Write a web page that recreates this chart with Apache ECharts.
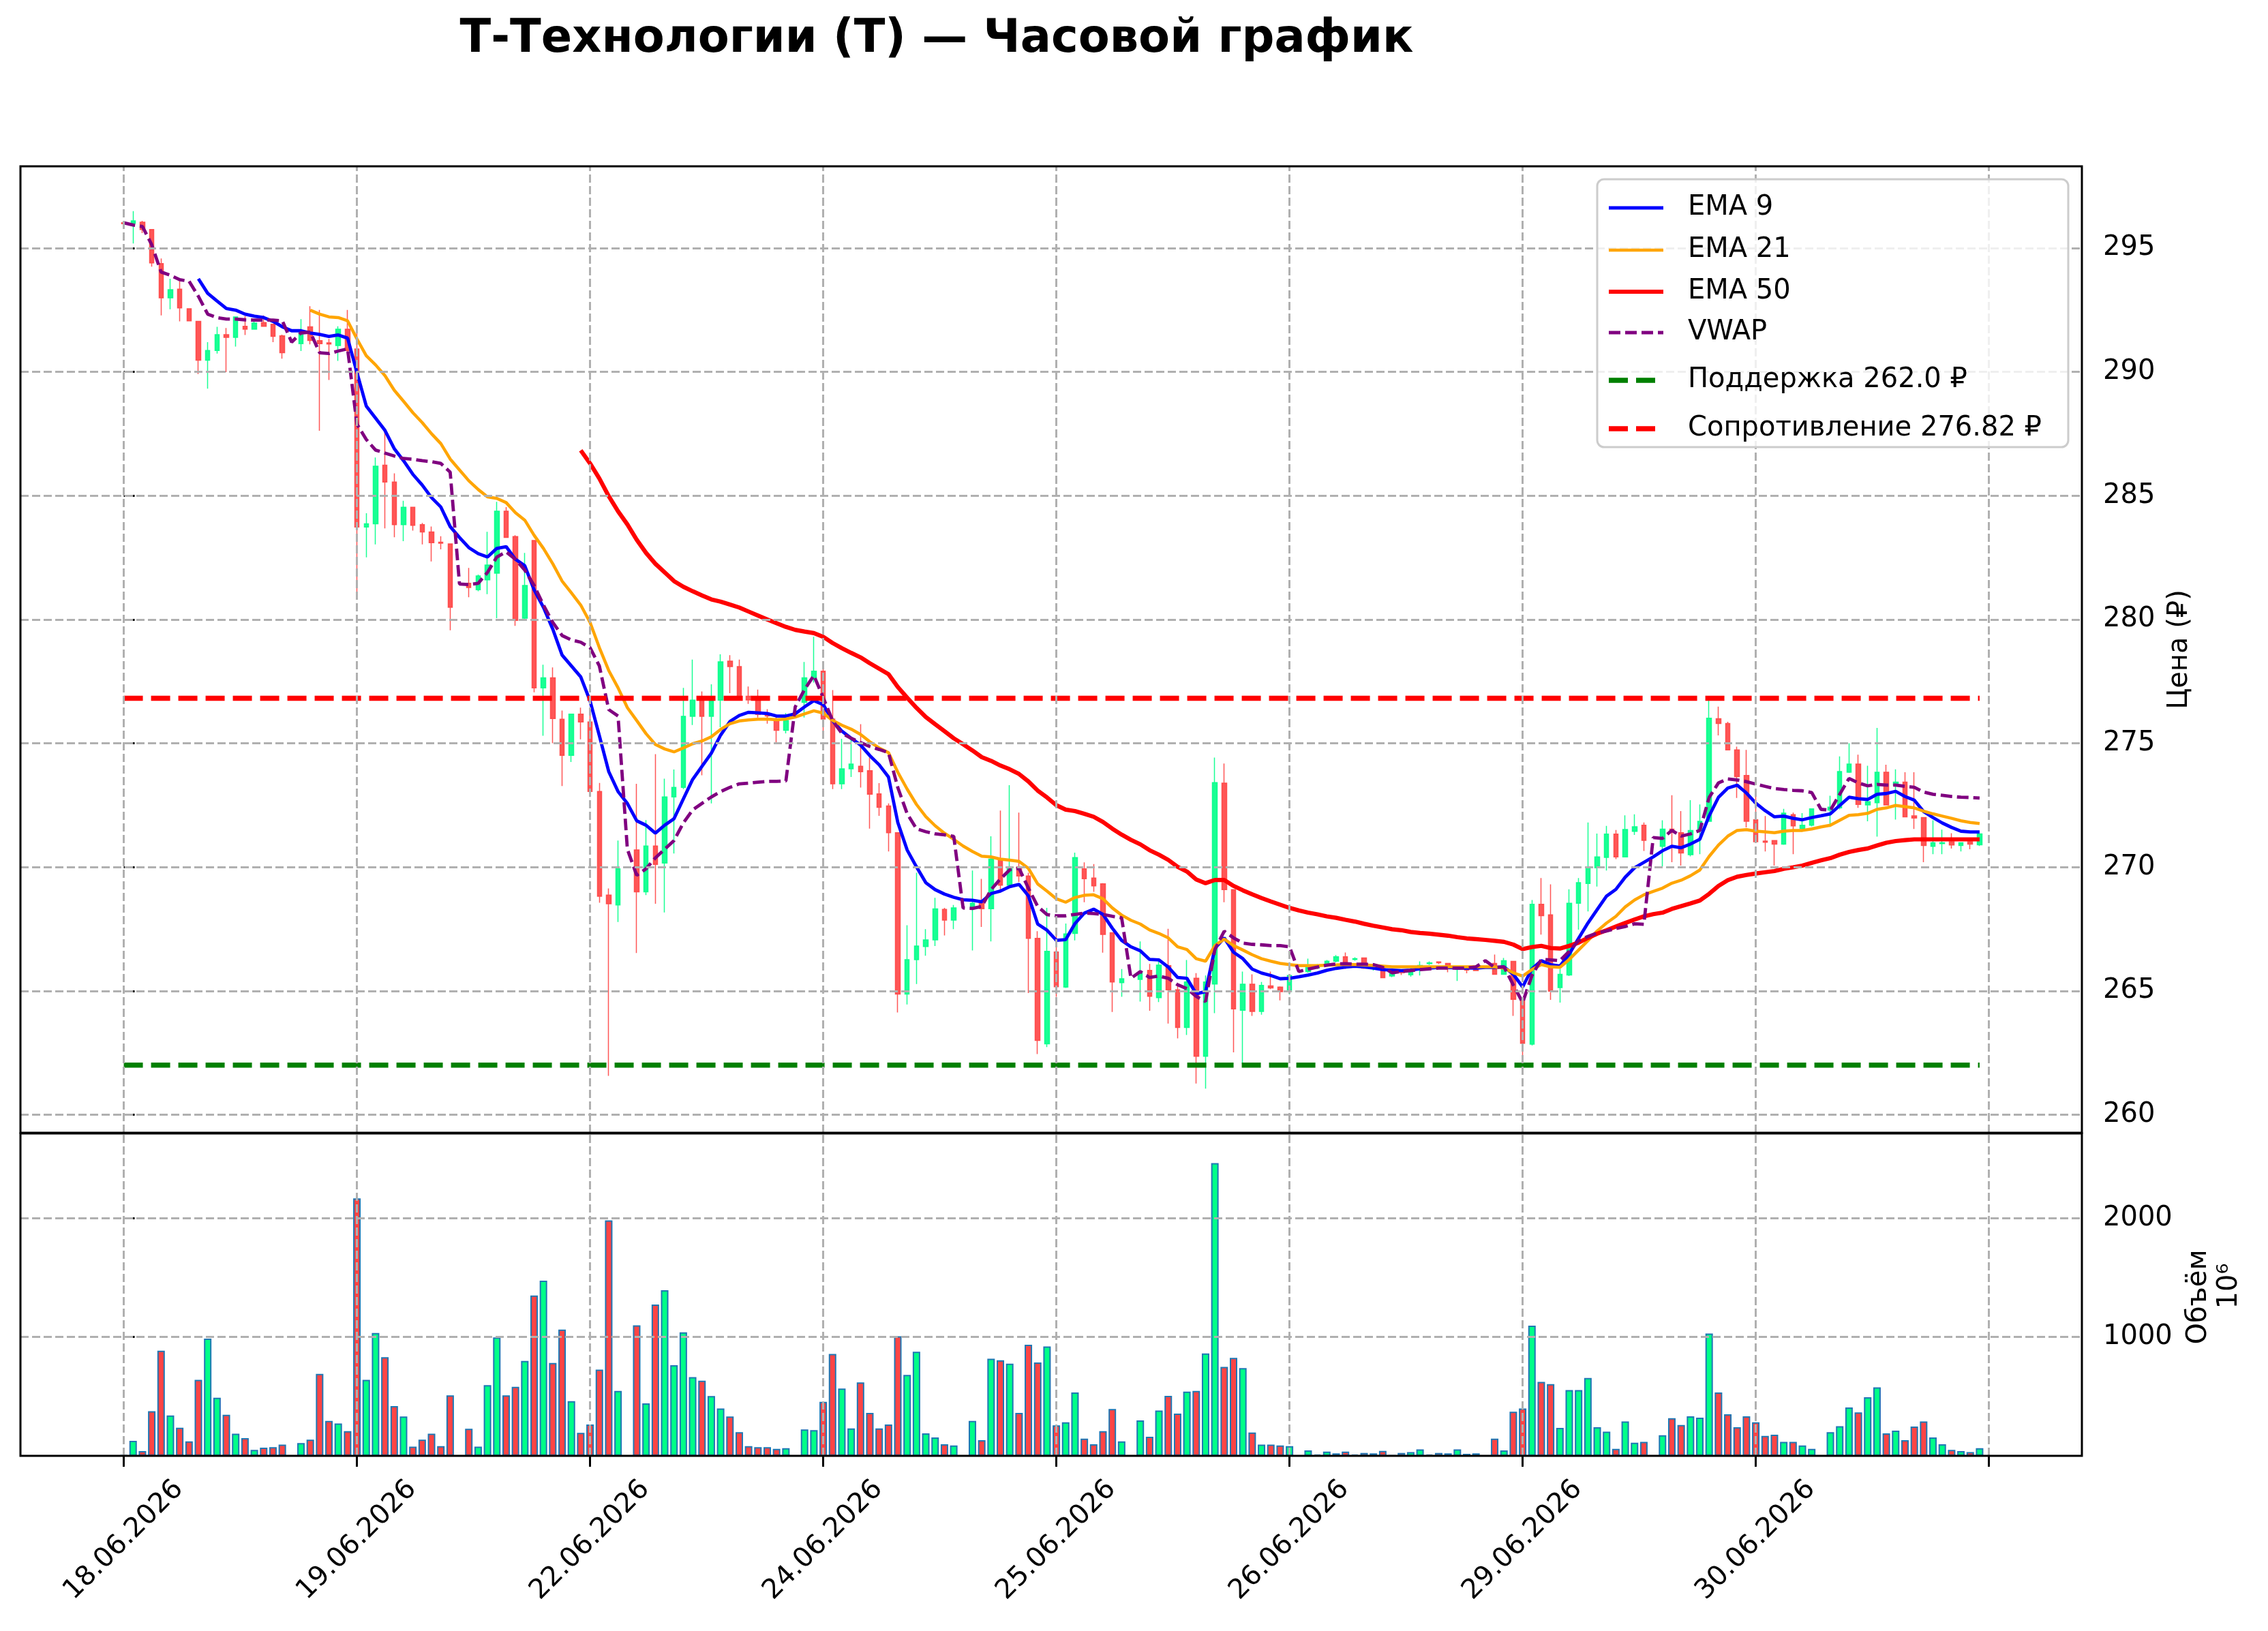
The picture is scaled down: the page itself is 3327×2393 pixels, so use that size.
<!DOCTYPE html>
<html>
<head>
<meta charset="utf-8">
<script src="https://cdn.jsdelivr.net/npm/echarts@6/dist/echarts.min.js"></script>
</head>
<body style="margin:0; background:#ffffff">
<div id="container" style="width:3327px; height:2393px"></div>
<script type="text/javascript">

// tick labels on the shared x axis (every 25 hourly bars)
var dateLabels = ['18.06.2026', '19.06.2026', '22.06.2026', '24.06.2026',
                  '25.06.2026', '26.06.2026', '29.06.2026', '30.06.2026'];
var priceTicks = [260, 265, 270, 275, 280, 285, 290, 295];
var volumeTicks = [1000, 2000];
var barTicks = [0, 25, 50, 75, 100, 125, 150, 175, 200];

var supportLevel = 262.0;
var resistanceLevel = 276.82;

// hourly candles, null = empty bar (no trades)
var openP = [
 296.02,296.00,296.04,295.75,294.37,292.99,293.34,292.55,292.04,290.47,
 290.86,291.50,291.39,291.84,291.72,291.99,291.92,291.45,null,291.14,
 291.82,291.26,291.17,291.06,291.72,290.92,283.73,283.86,286.23,285.55,
 283.83,284.53,283.83,283.53,283.12,283.05,null,281.46,281.20,281.60,
 281.87,284.37,283.35,280.05,283.19,277.24,277.64,275.97,274.51,276.18,
 275.86,273.05,268.87,268.47,null,270.69,269.00,270.85,270.16,272.83,
 273.22,276.09,276.74,276.09,276.74,278.32,278.10,276.90,276.78,276.20,
 275.98,275.52,null,276.65,277.64,277.91,275.98,273.36,273.97,274.07,
 273.89,272.96,272.47,271.39,264.87,266.26,266.79,267.06,268.29,267.86,
 null,268.35,268.54,268.32,270.32,269.27,270.01,269.64,267.12,262.86,
 266.57,265.15,267.32,269.93,269.56,269.32,267.35,265.33,null,265.46,
 265.83,264.73,266.02,265.04,263.52,265.51,262.36,265.28,273.39,269.09,
 264.22,265.27,264.17,265.20,265.15,264.97,null,265.78,265.94,266.05,
 266.20,266.38,266.27,266.33,265.90,265.92,265.60,265.84,265.65,265.89,
 266.10,266.17,266.11,265.87,265.90,265.93,null,266.11,265.67,266.19,
 264.64,262.85,268.50,268.07,265.13,265.64,268.54,269.34,269.97,270.39,
 271.33,270.41,271.44,271.69,null,270.84,271.53,271.39,270.50,271.48,
 271.85,275.99,275.80,274.73,273.70,271.91,271.05,271.07,270.93,272.12,
 271.55,271.69,null,272.30,272.39,273.83,274.16,272.51,272.60,273.83,
 273.31,273.43,272.07,272.00,270.84,270.95,271.02,270.87,271.02,270.90
];
var highP = [
 296.05,296.49,296.10,295.75,294.58,293.76,293.66,292.55,292.04,291.20,
 291.82,291.77,292.22,292.25,292.05,292.28,291.92,291.50,null,292.13,
 292.65,292.50,291.33,291.84,292.50,291.76,284.29,286.54,287.58,285.90,
 284.79,284.53,283.90,283.75,283.36,283.05,null,282.08,281.81,283.54,
 284.75,284.54,283.40,282.69,283.19,278.17,278.06,276.32,276.18,276.44,
 276.18,273.40,269.14,271.07,null,273.36,271.90,274.56,273.57,273.94,
 277.24,278.38,277.09,277.38,278.59,278.56,278.38,277.29,277.17,276.38,
 276.16,276.22,null,278.28,279.30,278.13,277.15,275.18,275.18,275.77,
 274.42,273.39,272.57,271.39,267.65,269.77,267.49,268.76,268.35,268.47,
 null,269.86,269.52,271.24,272.28,273.31,272.20,269.77,267.41,268.35,
 267.30,267.72,270.58,270.19,270.12,269.35,267.35,265.88,null,267.00,
 266.09,266.30,267.51,265.20,266.25,265.72,265.62,274.42,274.18,269.09,
 265.78,265.67,265.36,265.78,265.18,265.67,null,266.30,266.08,266.25,
 266.45,266.55,266.36,266.33,266.05,265.92,265.75,265.84,265.95,266.19,
 266.19,266.19,266.11,265.95,265.97,265.93,null,266.47,266.33,266.19,
 264.64,268.67,269.56,269.30,265.89,269.10,269.56,271.80,271.35,271.66,
 271.50,272.09,272.13,271.80,null,271.89,272.90,272.26,272.70,272.53,
 276.72,276.48,275.87,274.86,274.73,272.90,272.06,271.07,272.35,272.20,
 272.18,272.37,null,272.88,274.47,275.00,274.54,274.09,275.62,274.13,
 273.95,273.83,273.83,272.00,271.89,271.51,271.37,271.00,271.05,271.36
];
var lowP = [
 295.95,295.18,295.60,294.25,292.28,292.53,292.04,292.06,289.91,289.32,
 290.74,289.99,291.02,291.49,291.72,291.84,291.20,290.53,null,290.84,
 291.11,287.62,289.67,290.44,290.70,281.03,282.51,283.03,283.68,283.32,
 283.16,283.59,283.03,282.34,282.83,279.56,null,280.90,281.14,281.02,
 280.05,283.31,279.74,280.02,277.06,275.30,275.00,273.27,274.24,275.16,
 272.83,268.56,261.57,267.78,null,266.53,268.87,268.52,268.17,270.55,
 273.15,275.74,273.71,272.57,275.65,277.02,276.72,276.59,276.04,275.79,
 275.03,275.40,null,276.04,277.45,275.28,273.15,273.15,273.64,273.21,
 271.55,272.07,270.63,264.13,264.45,265.28,266.42,266.81,267.24,267.49,
 null,266.63,267.58,267.00,269.09,269.21,269.40,264.91,262.45,262.73,
 264.76,265.12,267.04,268.58,269.00,266.54,264.15,264.76,null,264.57,
 264.20,264.55,263.68,263.08,263.22,261.26,261.05,264.10,268.58,262.52,
 262.05,263.99,264.04,265.07,264.62,264.86,null,265.73,265.88,266.00,
 266.15,265.89,266.22,265.89,265.82,265.51,265.55,265.64,265.57,265.62,
 266.05,266.08,265.75,265.40,265.71,265.80,null,265.67,265.67,263.99,
 262.08,262.79,267.27,264.64,264.53,265.60,267.47,268.21,269.21,269.86,
 270.32,270.39,271.30,270.65,null,270.02,270.20,270.06,270.43,270.52,
 271.85,275.32,274.73,272.79,271.60,271.00,270.63,270.06,270.90,270.52,
 271.50,271.64,null,271.62,272.33,273.80,272.39,271.85,271.23,272.51,
 271.92,272.03,271.54,270.20,270.52,270.52,270.75,270.63,270.72,270.85
];
var closeP = [
 295.98,296.10,295.75,294.40,292.99,293.32,292.58,292.06,290.47,290.86,
 291.50,291.39,292.22,291.72,291.97,291.84,291.43,290.77,null,291.57,
 291.27,291.14,291.12,291.72,290.86,283.73,283.86,286.19,285.55,283.83,
 284.53,283.80,283.53,283.10,283.08,280.49,null,281.29,281.76,282.20,
 284.37,283.31,279.96,281.37,277.24,277.64,276.00,274.51,276.18,275.86,
 273.05,268.82,268.52,269.93,null,269.00,270.85,270.11,272.83,273.22,
 276.09,276.74,276.09,276.71,278.29,278.10,276.79,276.75,276.16,276.10,
 275.52,275.92,null,277.64,277.91,275.98,273.36,273.97,274.16,273.85,
 272.94,272.41,271.39,264.87,266.26,266.81,267.06,268.31,267.86,268.35,
 null,268.54,268.32,270.32,269.27,270.01,269.64,267.12,263.00,266.60,
 265.17,267.30,270.38,269.53,269.24,267.28,265.36,265.49,null,265.72,
 264.78,266.04,265.04,263.52,265.36,262.36,265.36,273.41,269.09,264.27,
 265.27,264.17,265.22,265.12,264.97,265.62,null,265.94,266.05,266.20,
 266.38,265.98,266.30,265.92,265.95,265.53,265.70,265.73,265.75,266.03,
 266.13,266.14,265.89,265.90,265.84,265.82,null,265.67,266.22,264.66,
 262.88,268.50,268.04,264.99,265.67,268.54,269.37,269.97,270.41,271.33,
 270.41,271.52,271.63,271.08,null,271.53,271.44,270.57,271.48,271.85,
 276.01,275.80,274.73,273.65,271.85,271.02,271.00,270.93,272.18,271.66,
 271.69,272.35,null,272.42,273.86,274.16,272.53,272.64,273.83,272.51,
 273.43,272.03,271.98,270.87,270.98,270.98,270.89,270.98,270.93,271.34
];
// volume, millions
var volume = [
 6,126,40,375,885,340,237,122,639,987,
 489,346,187,149,50,69,73,94,0,107,
 136,690,294,273,208,2166,639,1034,830,419,
 331,78,136,187,82,509,0,228,78,595,
 996,509,581,799,1350,1474,782,1063,461,193,
 264,725,1981,547,0,1098,442,1273,1394,763,
 1040,662,633,503,398,331,199,82,73,73,
 59,65,0,222,216,455,857,566,231,618,
 361,231,264,1006,681,876,189,155,98,88,
 0,294,132,818,805,776,361,935,786,920,
 256,283,533,145,98,208,394,122,0,298,
 161,381,505,356,541,547,862,2463,748,824,
 738,197,94,94,88,82,0,46,11,36,
 21,36,11,25,21,42,2,25,31,54,
 11,25,21,54,17,21,0,145,46,371,
 398,1096,623,604,235,553,553,656,241,203,
 59,289,111,117,0,174,317,260,333,321,
 1029,533,350,241,333,283,168,178,117,117,
 88,59,0,199,250,407,365,493,576,189,
 212,132,247,289,155,98,50,40,31,65
];

var ema9 = [
 null,null,null,null,null,null,null,null,293.76,293.17,
 292.86,292.56,292.49,292.33,292.25,292.19,292.04,291.82,291.66,291.66,
 291.57,291.51,291.43,291.49,291.36,289.98,288.62,288.13,287.64,286.90,
 286.41,285.86,285.43,284.92,284.54,283.75,283.31,282.90,282.66,282.52,
 282.87,282.94,282.43,282.17,281.20,280.49,279.61,278.56,278.12,277.68,
 276.71,275.30,273.86,273.05,272.57,271.87,271.69,271.37,271.69,271.95,
 272.75,273.54,274.07,274.60,275.33,275.88,276.12,276.25,276.23,276.20,
 276.10,276.10,276.19,276.47,276.72,276.56,275.92,275.49,275.20,274.93,
 274.50,274.13,273.64,271.80,270.69,270.01,269.37,269.09,268.91,268.78,
 268.68,268.66,268.60,268.93,269.03,269.21,269.30,268.84,267.70,267.45,
 267.04,267.07,267.72,268.14,268.30,268.09,267.53,267.04,266.78,266.62,
 266.27,266.25,265.96,265.54,265.51,264.88,264.97,266.72,267.14,266.56,
 266.30,265.88,265.72,265.62,265.49,265.51,265.57,265.64,265.72,265.83,
 265.91,265.96,266.00,265.97,265.92,265.86,265.84,265.82,265.84,265.89,
 265.92,265.95,265.95,265.92,265.92,265.92,265.95,265.95,265.97,265.67,
 265.16,265.89,266.22,266.06,266.00,266.49,267.12,267.74,268.29,268.83,
 269.10,269.59,269.97,270.19,270.41,270.66,270.84,270.78,270.93,271.12,
 272.07,272.82,273.19,273.31,272.99,272.58,272.28,272.03,272.06,271.97,
 271.91,272.00,272.07,272.15,272.49,272.82,272.76,272.73,272.94,272.97,
 273.06,272.85,272.70,272.24,272.00,271.78,271.60,271.45,271.42,271.42
];
var ema21 = [
 null,null,null,null,null,null,null,null,null,null,
 null,null,null,null,null,null,null,null,null,null,
 292.49,292.33,292.22,292.19,292.06,291.33,290.65,290.28,289.85,289.26,
 288.81,288.35,287.95,287.50,287.10,286.48,286.04,285.60,285.25,284.95,
 284.89,284.72,284.31,284.01,283.40,282.87,282.25,281.55,281.07,280.58,
 279.88,278.86,277.94,277.24,276.44,275.92,275.39,274.95,274.77,274.65,
 274.81,274.98,275.09,275.26,275.56,275.79,275.90,275.94,275.97,275.98,
 275.95,275.98,276.06,276.19,276.31,276.22,275.92,275.73,275.57,275.36,
 275.06,274.81,274.62,273.83,273.15,272.53,272.04,271.67,271.37,271.12,
 270.85,270.63,270.44,270.41,270.32,270.28,270.23,269.95,269.32,269.03,
 268.72,268.58,268.77,268.86,268.88,268.72,268.35,268.06,267.85,267.70,
 267.46,267.32,267.14,266.78,266.67,266.30,266.20,266.83,267.09,266.83,
 266.65,266.46,266.30,266.20,266.11,266.06,266.02,266.02,266.02,266.04,
 266.05,266.07,266.06,266.05,266.03,266.00,265.97,265.97,265.97,265.97,
 265.97,265.97,265.97,265.97,265.97,265.97,265.97,265.97,265.92,265.73,
 265.60,265.86,266.06,265.97,265.95,266.27,266.65,267.03,267.42,267.74,
 268.01,268.39,268.67,268.88,269.02,269.15,269.35,269.47,269.65,269.88,
 270.43,270.89,271.25,271.48,271.51,271.45,271.42,271.39,271.45,271.48,
 271.48,271.54,271.62,271.69,271.89,272.09,272.12,272.17,272.33,272.39,
 272.49,272.44,272.39,272.26,272.15,272.06,271.97,271.87,271.80,271.76
];
var ema50 = [
 null,null,null,null,null,null,null,null,null,null,
 null,null,null,null,null,null,null,null,null,null,
 null,null,null,null,null,null,null,null,null,null,
 null,null,null,null,null,null,null,null,null,null,
 null,null,null,null,null,null,null,null,null,286.83,
 286.30,285.69,284.98,284.37,283.84,283.22,282.69,282.25,281.90,281.55,
 281.32,281.14,280.97,280.81,280.72,280.60,280.48,280.32,280.16,280.00,
 279.85,279.70,279.58,279.51,279.45,279.30,279.05,278.84,278.65,278.47,
 278.23,278.01,277.79,277.27,276.84,276.43,276.06,275.77,275.49,275.20,
 274.96,274.71,274.44,274.29,274.10,273.95,273.76,273.46,273.09,272.81,
 272.50,272.32,272.26,272.15,272.03,271.82,271.55,271.31,271.10,270.92,
 270.68,270.50,270.29,270.01,269.82,269.50,269.35,269.48,269.48,269.24,
 269.06,268.90,268.75,268.61,268.48,268.35,268.25,268.16,268.09,268.01,
 267.95,267.87,267.80,267.71,267.63,267.56,267.49,267.45,267.38,267.34,
 267.31,267.27,267.23,267.17,267.12,267.09,267.06,267.02,266.98,266.87,
 266.69,266.77,266.82,266.73,266.71,266.82,266.95,267.14,267.31,267.45,
 267.60,267.74,267.88,268.01,268.10,268.16,268.31,268.42,268.53,268.65,
 268.92,269.24,269.47,269.61,269.68,269.74,269.79,269.84,269.93,269.99,
 270.06,270.17,270.27,270.36,270.50,270.61,270.69,270.75,270.87,270.98,
 271.05,271.09,271.12,271.12,271.12,271.12,271.12,271.12,271.12,271.12
];
var vwap = [
 296.02,295.93,295.87,295.13,294.03,293.90,293.72,293.66,293.05,292.33,
 292.19,292.13,292.13,292.10,292.09,292.09,292.09,292.06,291.20,291.57,
 291.60,290.77,290.74,290.84,290.93,287.89,287.27,286.84,286.72,286.60,
 286.50,286.47,286.41,286.37,286.30,285.95,281.43,281.41,281.46,281.90,
 282.52,282.73,282.43,281.99,281.37,280.58,279.88,279.35,279.17,279.08,
 278.86,278.12,276.36,276.10,270.72,269.67,269.93,270.37,270.72,271.07,
 271.78,272.31,272.57,272.83,273.05,273.22,273.36,273.39,273.43,273.46,
 273.46,273.48,276.47,277.17,277.74,276.84,275.92,275.40,275.20,275.03,
 274.87,274.75,274.62,273.21,272.16,271.55,271.43,271.34,271.30,271.24,
 268.35,268.33,268.41,269.09,269.52,269.89,269.95,269.15,268.41,268.08,
 268.03,268.03,268.09,268.14,268.12,268.09,268.01,267.95,265.51,265.78,
 265.54,265.60,265.51,265.25,265.09,264.78,264.57,266.67,267.41,267.14,
 266.93,266.88,266.86,266.83,266.83,266.78,265.78,265.88,265.96,266.04,
 266.09,266.10,266.08,266.08,266.06,265.95,265.73,265.78,265.82,265.86,
 265.89,265.92,265.92,265.92,265.92,265.97,266.22,265.95,265.97,265.24,
 264.53,265.62,266.27,266.25,266.22,266.60,267.03,267.20,267.34,267.42,
 267.52,267.60,267.71,267.69,271.19,271.16,271.48,271.25,271.34,271.48,
 272.81,273.40,273.56,273.52,273.45,273.35,273.26,273.17,273.13,273.10,
 273.08,273.01,272.33,272.30,272.94,273.58,273.40,273.28,273.34,273.31,
 273.31,273.26,273.22,273.03,272.94,272.90,272.85,272.82,272.81,272.79
];

var upColor = '#00ff88';
var downColor = '#ff4444';
var gridColor = '#b0b0b0';
var fontName = 'DejaVu Sans';

var candles = [];
var volBars = [];
for (var i = 0; i < openP.length; i++) {
    if (openP[i] === null) continue;
    candles.push([i, openP[i], closeP[i], lowP[i], highP[i]]);
    volBars.push({
        value: [i, volume[i]],
        itemStyle: {color: closeP[i] >= openP[i] ? upColor : downColor}
    });
}

function toLine(arr) {
    var out = [];
    for (var i = 0; i < arr.length; i++) {
        if (arr[i] !== null) out.push([i, arr[i]]);
    }
    return out;
}

function levelLine(v) {
    return [[0, v], [openP.length - 1, v]];
}

// dashed grid drawn as mark lines of an invisible helper series
function gridHelper(xIdx, yIdx, yValues) {
    var lines = [];
    yValues.forEach(function (v) { lines.push({yAxis: v}); });
    barTicks.forEach(function (v) { lines.push({xAxis: v}); });
    return {
        type: 'line', xAxisIndex: xIdx, yAxisIndex: yIdx, z: 1,
        data: [[-100, -100]], showSymbol: false, silent: true,
        lineStyle: {opacity: 0},
        markLine: {
            silent: true, symbol: ['none', 'none'], label: {show: false},
            animation: false,
            lineStyle: {color: gridColor, type: [12, 5], width: 3},
            data: lines
        }
    };
}

var xMin = -11.08, xMax = 209.97;
var L = 30, R = 3054, T1 = 244, B1 = 1662, T2 = 1663, B2 = 2136;

var legendRows = [
    {name: 'EMA 9', color: '#0000ff', w: 4.8, dash: null, y: 305},
    {name: 'EMA 21', color: '#ffa500', w: 4.5, dash: null, y: 367},
    {name: 'EMA 50', color: '#ff0000', w: 6.2, dash: null, y: 428},
    {name: 'VWAP', color: '#800080', w: 4.8, dash: [17, 7], y: 488},
    {name: 'Поддержка ' + supportLevel.toFixed(1) + ' ₽', color: '#008000', w: 7.5, dash: [28, 12], y: 558},
    {name: 'Сопротивление ' + resistanceLevel.toFixed(2) + ' ₽', color: '#ff0000', w: 7.5, dash: [28, 12], y: 629}
];

var graphics = [
    {type: 'text', x: 1374, y: 59, z: 100,
     style: {text: 'Т-Технологии (T) — Часовой график', fill: '#000',
             font: 'bold 67px "DejaVu Sans"', textAlign: 'center', textVerticalAlign: 'middle'}},
    {type: 'rect', z: 100, shape: {x: L, y: T1, width: R - L, height: B1 - T1},
     style: {fill: 'none', stroke: '#000', lineWidth: 3}},
    {type: 'rect', z: 100, shape: {x: L, y: T2, width: R - L, height: B2 - T2},
     style: {fill: 'none', stroke: '#000', lineWidth: 3}},
    {type: 'text', x: 3198, y: 953, rotation: Math.PI / 2, z: 100,
     style: {text: 'Цена (₽)', fill: '#000', font: '40px "DejaVu Sans"',
             textAlign: 'center', textVerticalAlign: 'middle'}},
    {type: 'text', x: 3226, y: 1903, rotation: Math.PI / 2, z: 100,
     style: {text: 'Объём', fill: '#000', font: '40px "DejaVu Sans"',
             textAlign: 'center', textVerticalAlign: 'middle'}},
    {type: 'text', x: 3271, y: 1887, rotation: Math.PI / 2, z: 100,
     style: {text: '10⁶', fill: '#000', font: '40px "DejaVu Sans"',
             textAlign: 'center', textVerticalAlign: 'middle'}},
    {type: 'rect', z: 90, shape: {x: 2343, y: 263, width: 691, height: 393, r: 10},
     style: {fill: 'rgba(255,255,255,0.8)', stroke: '#cccccc', lineWidth: 3}}
];
legendRows.forEach(function (row) {
    graphics.push({type: 'line', z: 91,
        shape: {x1: 2360, y1: row.y, x2: 2440, y2: row.y},
        style: {stroke: row.color, lineWidth: row.w, lineDash: row.dash}});
    graphics.push({type: 'text', x: 2476, y: row.y, z: 91,
        style: {text: row.name, fill: '#000', font: '40px "DejaVu Sans"',
                textAlign: 'left', textVerticalAlign: 'middle'}});
});

function lineSeries(name, data, color, width, dash, z) {
    return {
        name: name, type: 'line', xAxisIndex: 0, yAxisIndex: 0,
        data: data, showSymbol: false, smooth: false, z: z || 4,
        lineStyle: {color: color, width: width, type: dash || 'solid'},
        itemStyle: {color: color}
    };
}

var option = {
    animation: false,
    backgroundColor: '#ffffff',
    textStyle: {fontFamily: fontName},
    graphic: graphics,
    grid: [
        {left: L, top: T1, width: R - L, height: B1 - T1},
        {left: L, top: T2, width: R - L, height: B2 - T2}
    ],
    xAxis: [
        {type: 'value', gridIndex: 0, min: xMin, max: xMax,
         axisLine: {show: false}, axisTick: {show: false},
         axisLabel: {show: false}, splitLine: {show: false}},
        {type: 'value', gridIndex: 1, min: xMin, max: xMax,
         axisLine: {show: false}, splitLine: {show: false},
         axisTick: {show: true, customValues: barTicks, length: 16,
                    lineStyle: {color: '#000', width: 3}},
         axisLabel: {customValues: [0, 25, 50, 75, 100, 125, 150, 175],
                     rotate: 45, fontSize: 40, color: '#000', margin: 124,
                     align: 'center', verticalAlign: 'middle',
                     fontFamily: fontName,
                     formatter: function (v) { return dateLabels[Math.round(v / 25)]; }}}
    ],
    yAxis: [
        {type: 'value', gridIndex: 0, position: 'right', min: 259.27, max: 298.3,
         axisLine: {show: false}, splitLine: {show: false},
         axisTick: {show: true, customValues: priceTicks, length: 16,
                    lineStyle: {color: '#000', width: 3}},
         axisLabel: {customValues: priceTicks, fontSize: 40, color: '#000',
                     margin: 31, fontFamily: fontName,
                     formatter: function (v) { return String(v); }}},
        {type: 'value', gridIndex: 1, position: 'right', min: 0, max: 2713,
         axisLine: {show: false}, splitLine: {show: false},
         axisTick: {show: true, customValues: volumeTicks, length: 16,
                    lineStyle: {color: '#000', width: 3}},
         axisLabel: {customValues: volumeTicks, fontSize: 40, color: '#000',
                     margin: 31, fontFamily: fontName,
                     formatter: function (v) { return String(v); }}}
    ],
    series: [
        gridHelper(0, 0, priceTicks),
        gridHelper(1, 1, volumeTicks),
        {
            name: 'Объём', type: 'bar', xAxisIndex: 1, yAxisIndex: 1,
            data: volBars, barWidth: 11, z: 2,
            itemStyle: {borderColor: '#1f77b4', borderWidth: 2}
        },
        {
            name: 'T', type: 'candlestick', xAxisIndex: 0, yAxisIndex: 0,
            data: candles, barWidth: 7, z: 3,
            encode: {x: 0, y: [1, 2, 3, 4]},
            itemStyle: {
                color: upColor, color0: downColor,
                borderColor: upColor, borderColor0: downColor,
                borderWidth: 1.5, opacity: 0.9
            }
        },
        lineSeries('EMA 9', toLine(ema9), '#0000ff', 4.8),
        lineSeries('EMA 21', toLine(ema21), '#ffa500', 4.5),
        lineSeries('EMA 50', toLine(ema50), '#ff0000', 6.2),
        lineSeries('VWAP', toLine(vwap), '#800080', 4.8, [17, 7]),
        lineSeries('Поддержка', levelLine(supportLevel), '#008000', 7.5, [28, 12]),
        lineSeries('Сопротивление', levelLine(resistanceLevel), '#ff0000', 7.5, [28, 12])
    ]
};

var myChart = echarts.init(document.getElementById('container'));
myChart.setOption(option);

</script>
</body>
</html>
